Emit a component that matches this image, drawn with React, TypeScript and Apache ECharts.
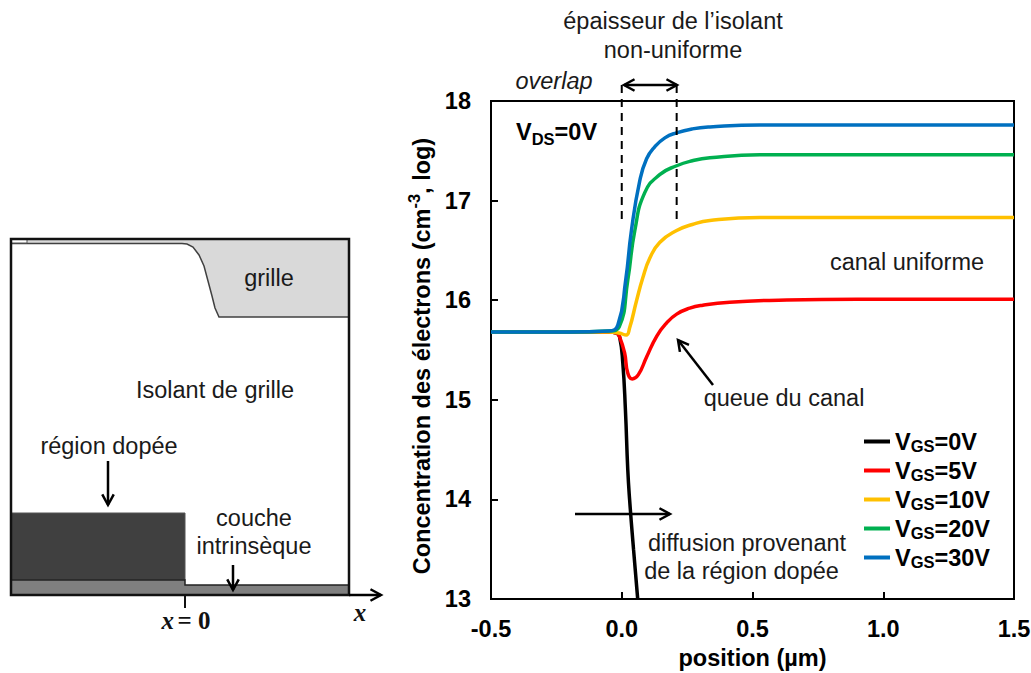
import React, { useEffect, useRef } from "react";
import * as echarts from "echarts";

const xMin = -0.5, xMax = 1.5, yMin = 13, yMax = 18;
const xTicks = ["-0.5", "0.0", "0.5", "1.0", "1.5"];
const seriesNames = ["VGS=0V", "VGS=5V", "VGS=10V", "VGS=20V", "VGS=30V"];
const seriesColors = ["#000000", "#ff0000", "#ffc000", "#00b050", "#0070c0"];

const vgs0 = [[-0.5,15.68],[-0.2,15.68],[-0.05,15.68],[-0.02,15.67],[-0.008,15.63],[0.004,15.37],[0.014,14.9],[0.023,14.3],[0.03,14.0],[0.045,13.5],[0.061,13]];
const vgs5 = [[-0.5,15.68],[-0.2,15.68],[-0.05,15.68],[-0.02,15.67],[-0.008,15.63],[0.011,15.47],[0.023,15.27],[0.04,15.21],[0.063,15.25],[0.095,15.43],[0.134,15.64],[0.171,15.77],[0.21,15.86],[0.26,15.92],[0.31,15.95],[0.413,15.98],[0.6,16.0],[0.9,16.01],[1.5,16.01]];
const vgs10 = [[-0.5,15.68],[-0.2,15.68],[-0.05,15.68],[-0.01,15.67],[0.017,15.65],[0.03,15.72],[0.057,16.0],[0.08,16.22],[0.107,16.42],[0.145,16.58],[0.21,16.7],[0.27,16.76],[0.337,16.8],[0.528,16.83],[0.9,16.83],[1.5,16.83]];
const vgs20 = [[-0.5,15.68],[-0.2,15.68],[-0.05,15.69],[-0.01,15.73],[0.023,16.2],[0.05,16.7],[0.088,17.08],[0.145,17.26],[0.21,17.35],[0.27,17.4],[0.337,17.43],[0.528,17.46],[0.9,17.46],[1.5,17.46]];
const vgs30 = [[-0.5,15.68],[-0.2,15.68],[-0.05,15.69],[-0.015,15.75],[0.015,16.2],[0.037,16.7],[0.069,17.2],[0.095,17.42],[0.126,17.54],[0.165,17.63],[0.209,17.68],[0.27,17.72],[0.337,17.74],[0.528,17.76],[0.9,17.76],[1.5,17.76]];
const seriesValues = [vgs0, vgs5, vgs10, vgs20, vgs30];

const overlapStart = [[0, 18.16], [0, 16.78]];
const overlapEnd = [[0.21, 18.16], [0.21, 16.78]];

const FONT = "Liberation Sans, Arial, sans-serif";
const SERIF = "Liberation Serif, Times New Roman, serif";
const TXT = 23.5;
const SUB = 16.5;

const label = (x: number, y: number, text: string, extra: any = {}) => ({
  type: "text", x, y, silent: true,
  style: { text, fontFamily: FONT, fontSize: TXT, fill: "#1a1a1a", textAlign: "center", textVerticalAlign: "middle", ...extra },
});

const arrow = (x1: number, y1: number, x2: number, y2: number, both = false) => {
  const a = Math.atan2(y2 - y1, x2 - x1), L = 12, w = 0.5;
  const head = (px: number, py: number, ang: number) => ({
    type: "polyline", silent: true,
    shape: { points: [
      [px - L * Math.cos(ang - w), py - L * Math.sin(ang - w)],
      [px, py],
      [px - L * Math.cos(ang + w), py - L * Math.sin(ang + w)],
    ] },
    style: { stroke: "#000", lineWidth: 2.5, fill: "none" },
  });
  const els: any[] = [
    { type: "line", silent: true, shape: { x1, y1, x2, y2 }, style: { stroke: "#000", lineWidth: 2.5 } },
    head(x2, y2, a),
  ];
  if (both) els.push(head(x1, y1, a + Math.PI));
  return els;
};

const schematic = [
  { type: "rect", silent: true, shape: { x: 11, y: 239, width: 338, height: 356 }, style: { fill: "#fff" } },
  { type: "polygon", silent: true, shape: { points: [[11,239],[349,239],[349,317],[219,317],[215,308],[212,296],[208,281],[204,266],[199,255],[193,247],[187,244],[182,243.5],[11,243.5]] }, style: { fill: "#d9d9d9", stroke: "none" } },
  { type: "polyline", silent: true, shape: { points: [[11,243.5],[182,243.5],[187,244],[193,247],[199,255],[204,266],[208,281],[212,296],[215,308],[219,317],[349,317]] }, style: { stroke: "#404040", lineWidth: 1.5, fill: "none" } },
  { type: "rect", silent: true, shape: { x: 11, y: 239, width: 16, height: 4 }, style: { fill: "#fff", stroke: "#555", lineWidth: 1 } },
  { type: "rect", silent: true, shape: { x: 11, y: 513, width: 174, height: 67 }, style: { fill: "#404040", stroke: "#555", lineWidth: 1 } },
  { type: "polygon", silent: true, shape: { points: [[11,580],[185,580],[185,585],[349,585],[349,595],[11,595]] }, style: { fill: "#7f7f7f", stroke: "#222", lineWidth: 1.5 } },
  { type: "rect", silent: true, shape: { x: 11, y: 239, width: 338, height: 356 }, style: { fill: "none", stroke: "#111", lineWidth: 2.5 } },
  { type: "line", silent: true, shape: { x1: 185, y1: 595, x2: 185, y2: 608 }, style: { stroke: "#111", lineWidth: 2 } },
  ...arrow(349, 595, 381, 595),
  ...arrow(108, 461, 108, 505),
  ...arrow(233, 565, 233, 590),
  label(269, 278, "grille"),
  label(215, 390, "Isolant de grille"),
  label(109, 446, "région dopée"),
  label(254, 518, "couche"),
  label(254, 546, "intrinsèque"),
  {
    type: "text", x: 186, y: 620, silent: true,
    style: {
      text: "{i|x} {b|= 0}", textAlign: "center", textVerticalAlign: "middle",
      rich: {
        i: { fontFamily: SERIF, fontStyle: "italic", fontWeight: "bold", fontSize: 25, fill: "#111" },
        b: { fontFamily: SERIF, fontWeight: "bold", fontSize: 25, fill: "#111" },
      },
    },
  },
  label(360, 612, "x", { fontFamily: SERIF, fontStyle: "italic", fontWeight: "bold", fontSize: 25, fill: "#111" }),
];

const annotations = [
  label(673, 21, "épaisseur de l’isolant"),
  label(673, 50, "non-uniforme"),
  label(554, 81, "overlap", { fontStyle: "italic" }),
  label(907, 262, "canal uniforme"),
  label(784, 398, "queue du canal"),
  label(747, 543, "diffusion provenant"),
  label(741.5, 571, "de la région dopée"),
  {
    type: "text", x: 516, y: 132, silent: true,
    style: {
      text: "{b|V}{s|DS}{b|=0V}",
      rich: {
        b: { fontFamily: FONT, fontWeight: "bold", fontSize: TXT, fill: "#000", lineHeight: 30, verticalAlign: "middle" },
        s: { fontFamily: FONT, fontWeight: "bold", fontSize: SUB, fill: "#000", lineHeight: 30, verticalAlign: "bottom" },
      },
      textVerticalAlign: "middle",
    },
  },
  ...arrow(624, 85, 677, 85, true),
  ...arrow(713, 385, 678, 340),
  ...arrow(575, 514, 670, 514),
];

export default function App() {
  const ref = useRef<HTMLDivElement>(null);
  useEffect(() => {
    const chart = echarts.init(ref.current!, null, { renderer: "svg" });
    chart.setOption({
      animation: false,
      backgroundColor: "#fff",
      grid: { show: true, outerBoundsMode: "none", borderColor: "#000", borderWidth: 2, left: 491, right: 17, top: 101, bottom: 74 },
      xAxis: {
        type: "value", min: xMin, max: xMax, interval: 0.5,
        axisLine: { onZero: false, lineStyle: { color: "#000", width: 2 } },
        axisTick: { inside: true, length: 7, lineStyle: { color: "#000", width: 2 } },
        splitLine: { show: false },
        axisLabel: {
          color: "#000", fontFamily: FONT, fontWeight: "bold", fontSize: TXT, margin: 18,
          formatter: (_: number, i: number) => xTicks[i],
        },
        name: "position (µm)", nameLocation: "middle", nameGap: 59,
        nameTextStyle: { color: "#000", fontFamily: FONT, fontWeight: "bold", fontSize: TXT, verticalAlign: "middle" },
      },
      yAxis: {
        type: "value", min: yMin, max: yMax, interval: 1,
        axisLine: { onZero: false, lineStyle: { color: "#000", width: 2 } },
        axisTick: { inside: true, length: 7, lineStyle: { color: "#000", width: 2 } },
        splitLine: { show: false },
        axisLabel: { color: "#000", fontFamily: FONT, fontWeight: "bold", fontSize: TXT, margin: 20 },
        name: "{t|Concentration des électrons (cm}{u|-3}{t|, log)}",
        nameLocation: "middle", nameGap: 54,
        nameTextStyle: {
          padding: [0, 12, 0, 0],
          rich: {
            t: { color: "#000", fontFamily: FONT, fontWeight: "bold", fontSize: TXT, lineHeight: 28, verticalAlign: "bottom" },
            u: { color: "#000", fontFamily: FONT, fontWeight: "bold", fontSize: SUB, lineHeight: 28, verticalAlign: "top" },
          },
        },
      },
      legend: {
        left: 859, top: 424.5, orient: "vertical", icon: "rect", itemWidth: 26, itemHeight: 4, itemGap: 4,
        data: seriesNames, selectedMode: false,
        formatter: (n: string) => `{b|V}{s|GS}{b|${n.slice(3)}}`,
        textStyle: {
          rich: {
            b: { fontFamily: FONT, fontWeight: "bold", fontSize: TXT, color: "#000", lineHeight: 26, verticalAlign: "middle" },
            s: { fontFamily: FONT, fontWeight: "bold", fontSize: SUB, color: "#000", lineHeight: 26, verticalAlign: "bottom" },
          },
        },
      },
      graphic: { elements: [...schematic, ...annotations] },
      series: [
        ...seriesNames.map((name, i) => ({
          type: "line", name, data: seriesValues[i], showSymbol: false, symbol: "none",
          smooth: 0.5, clip: true,
          lineStyle: { color: seriesColors[i], width: 3.5 }, itemStyle: { color: seriesColors[i] },
          z: 3 + i,
        })),
        ...[overlapStart, overlapEnd].map((d) => ({
          type: "line", name: "overlap", data: d, symbol: "none", clip: false, silent: true,
          lineStyle: { color: "#000", width: 2, type: [8, 6] }, z: 10,
        })),
      ],
    });
    return () => chart.dispose();
  }, []);
  return <div ref={ref} style={{ position: "fixed", left: 0, top: 0, width: 1031, height: 673 }} />;
}
